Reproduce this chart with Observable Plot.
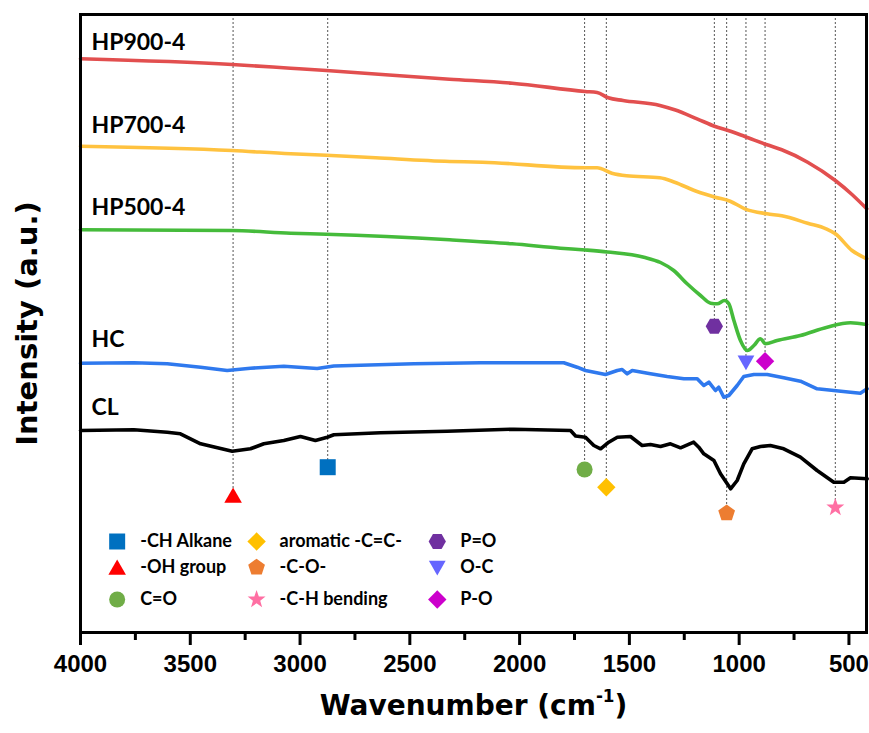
<!DOCTYPE html>
<html><head><meta charset="utf-8">
<script src="https://cdn.jsdelivr.net/npm/d3@7"></script>
<script src="https://cdn.jsdelivr.net/npm/@observablehq/plot@0.6"></script>
<style>
body{margin:0;background:#fff;}
#chart{width:869px;height:733px;}
</style></head><body><div id="chart"></div>
<script>
// ---- data (wavenumber cm-1, intensity a.u.) ----
const hp900W = [4000,3309,3043,2880,2319,2034,1701,1647,1596,1529,1361,1294,1192,1109,1050,974,873,806,688,562,486,419];
const hp900I = [573.7,568,564.3,562,553.3,549.3,541,540,534.7,532,527,522.7,513.7,506,502,496,487.7,482.7,470.3,452,438,423.7];

const hp700W = [4000,3309,3043,2880,2656,2319,2169,1701,1647,1580,1513,1361,1294,1192,1109,1041,974,873,806,688,604,562,486,419];
const hp700I = [486.3,482,478.7,477.3,474.7,471,470.3,464.7,464.7,459.3,456.7,454.7,450.3,441,435.3,431.3,423.7,418.7,416.7,409.3,403.7,398.7,382,373.7];

const hp500W = [4000,3309,3043,2880,2319,2034,1814,1701,1600,1434,1358,1298,1237,1176,1130,1100,1067,1047,1024,994,963,933,903,880,827,721,599,493,420];
const hp500I = [402.7,402,399.3,398.3,392.7,388.7,384.3,382.5,380.5,375.3,370,362,348.7,337,329.3,328.7,332,328.7,312,292,282,287,293.7,288.7,292,297,305.3,309.7,308];

const hcW = [4000,3757,3605,3453,3332,3226,3074,2922,2846,2482,2178,1799,1738,1700,1609,1555,1533,1510,1487,1404,1328,1252,1191,1161,1138,1108,1093,1070,1047,1009,979,933,872,797,721,645,569,493,448,417];
const hcI = [269.3,269.7,268.7,265.3,262,264.3,266.3,264,266.5,268.7,269.7,269.7,265.3,262,258,262,263,258.7,262,258.7,256,253.7,253.7,247,250.3,242,245.3,235.3,237,247,256,258,258,254.7,251.3,243.7,242,240.3,239.3,243.7];

const clW = [4000,3757,3605,3545,3453,3309,3226,3165,3074,2998,2930,2876,2846,2634,2330,2026,1768,1745,1700,1662,1631,1594,1555,1495,1442,1404,1358,1313,1267,1207,1184,1161,1115,1085,1039,1009,979,941,903,858,797,721,645,569,523,493,417];
const clI = [202,202.7,200.3,198.7,188.7,181.3,183.7,188.7,192,196,192,195.3,197.7,199.7,201.3,203.3,202,196.5,195.3,187,183.7,190.3,195.3,196,187,188,186,188.7,184.7,190.3,185.3,178.7,172,158.7,143.7,152,168.7,183.7,186,187,183.7,175.3,162,150.3,150.3,154.7,153.7];

const seriesNames = ["HP900-4","HP700-4","HP500-4","HC","CL"];
const seriesLabelW = [3950,3950,3950,3950,3950];
const seriesLabelI = [590.3,507,424.5,293,224.5];

const peakNames = ["-OH group","-CH Alkane","C=O","aromatic -C=C-","-C-O-","-C-H bending","P=O","O-C","P-O"];
const peakW = [3305,2874,1704,1605,1057,562,1113,969,882];
const peakI = [137,165.3,163,145.3,119.3,125,306.3,270.3,271.3];

const legendNames = ["-CH Alkane","-OH group","C=O","aromatic -C=C-","-C-O-","-C-H bending","P=O","O-C","P-O"];
const legendColW = [3833,3198,2375];
const legendRowI = [91,65,33];

const majorTicks = [4000,3500,3000,2500,2000,1500,1000,500];
const minorTicks = [3750,3250,2750,2250,1750,1250,750];

const xTitle = ["Wavenumber (cm", "-1", ")"];
const yTitle = "Intensity (a.u.)";
const yTitleW = 4241;   // left of the frame, in wavenumber units
const yTitleI = 309;

const xDomain = [4000,420];
const yDomain = [0,618];

// ---- styles ----
const seriesColors = ["#e24f4f","#ffc23f","#45bb3b","#2f79ee","#000000"];
const seriesW = [hp900W,hp700W,hp500W,hcW,clW];
const seriesI = [hp900I,hp700I,hp500I,hcI,clI];

function poly(pts){
  return {draw(ctx,size){
    const r = Math.sqrt(size/Math.PI);
    pts.forEach(([a,b],i)=> i ? ctx.lineTo(a*r,b*r) : ctx.moveTo(a*r,b*r));
    ctx.closePath();
  }};
}
function ngon(n,R,start){
  return poly(d3.range(n).map(k=>{const a=(start+360*k/n)*Math.PI/180; return [R*Math.cos(a),R*Math.sin(a)];}));
}
const starPts = d3.range(10).map(k=>{const a=(-90+36*k)*Math.PI/180; const R=k%2?0.48:1.18; return [R*Math.cos(a),R*Math.sin(a)];});
const symSquare = poly([[-1,-1],[1,-1],[1,1],[-1,1]]);
const symTriUp = poly([[0,-1.0],[1.1,0.9],[-1.1,0.9]]);
const symTriDown = poly([[0,1.0],[1.05,-0.85],[-1.05,-0.85]]);
const symDiamond = poly([[0,-1.15],[1.15,0],[0,1.15],[-1.15,0]]);
const symPent = ngon(5,1.1,-90);
const symHex = ngon(6,1.08,0);
const symStar = poly(starPts);

const peakStyle = {
  "-CH Alkane":{symbol:symSquare, fill:"#0070c0"},
  "-OH group":{symbol:symTriUp, fill:"#ff0000"},
  "C=O":{symbol:"circle", fill:"#70ad47"},
  "aromatic -C=C-":{symbol:symDiamond, fill:"#ffc000"},
  "-C-O-":{symbol:symPent, fill:"#ed7d31"},
  "-C-H bending":{symbol:symStar, fill:"#ff6fa3"},
  "P=O":{symbol:symHex, fill:"#7030a0"},
  "O-C":{symbol:symTriDown, fill:"#6666ff"},
  "P-O":{symbol:symDiamond, fill:"#cc00cc"}
};

const lineData = seriesNames.flatMap((s,j)=> seriesW[j].map((w,i)=>({series:s, w, v:seriesI[j][i]})));
const peaks = peakNames.map((n,i)=>({name:n, w:peakW[i], v:peakI[i]}));
const legend = legendNames.map((n,i)=>({name:n, w:legendColW[Math.floor(i/3)], v:legendRowI[i%3]}));
const labels = seriesNames.map((n,i)=>({name:n, w:seriesLabelW[i], v:seriesLabelI[i]}));

const marks = [];
marks.push(Plot.ruleX(peaks, {x:"w", y1:()=>yDomain[1], y2:"v", stroke:"#555", strokeWidth:1, strokeDasharray:"2,2"}));
seriesNames.forEach((s,j)=>{
  marks.push(Plot.line(lineData.filter(d=>d.series===s), {x:"w", y:"v", stroke:seriesColors[j], strokeWidth:3.6, strokeLinejoin:"round", curve: j<3 ? "monotone-x" : "linear"}));
});
marks.push(Plot.text(labels, {x:"w", y:"v", text:"name", textAnchor:"start", fontSize:23, fontWeight:"bold", fontFamily:"Lato", fill:"#000"}));
peaks.forEach(p=>{
  const st = peakStyle[p.name];
  marks.push(Plot.dot([p], {x:"w", y:"v", symbol:st.symbol, fill:st.fill, r:8, stroke:"none"}));
});
legend.forEach(p=>{
  const st = peakStyle[p.name];
  marks.push(Plot.dot([p], {x:"w", y:"v", symbol:st.symbol, fill:st.fill, r:8, stroke:"none"}));
});
marks.push(Plot.text(legend, {x:"w", y:"v", text:"name", dx:23, textAnchor:"start", fontSize:18, fontWeight:"bold", fontFamily:"Lato", fill:"#000"}));
marks.push(Plot.frame({strokeWidth:3, stroke:"#000"}));
marks.push(Plot.axisX({ticks:majorTicks, tickSize:13, tickPadding:9, tickFormat:d3.format("d"), fontSize:24, fontWeight:"bold", fontFamily:"Liberation Sans", strokeWidth:3, label:null}));
marks.push(Plot.axisX({ticks:minorTicks, tickSize:8, tickFormat:()=>"", strokeWidth:3, label:null}));
marks.push(Plot.text([{w:yTitleW, v:yTitleI, t:yTitle}], {x:"w", y:"v", text:"t", rotate:-90, fontSize:29, fontWeight:"bold", fontFamily:"DejaVu Sans", fill:"#000", clip:false}));
marks.push(Plot.text([xTitle.join("")], {frameAnchor:"bottom", dy:82, fontSize:28, fontWeight:"bold", fontFamily:"DejaVu Sans", fill:"#000", className:"xtitle"}));

const chart = Plot.plot({
  width:869, height:733,
  marginLeft:80, marginRight:3, marginTop:14, marginBottom:101,
  x:{domain:xDomain},
  y:{domain:yDomain, axis:null},
  style:{background:"#fff", color:"#000", overflow:"visible"},
  marks
});
document.getElementById("chart").appendChild(chart);

// superscript in the x-axis title
d3.select(chart).selectAll("text").filter(function(){return this.textContent === xTitle.join("");}).each(function(){
  const t = d3.select(this);
  t.text(null);
  t.append("tspan").text(xTitle[0]);
  t.append("tspan").attr("font-size","60%").attr("dy","-0.75em").text(xTitle[1]);
  t.append("tspan").attr("dy","0.45em").text(xTitle[2]);
});
</script>
</body></html>
